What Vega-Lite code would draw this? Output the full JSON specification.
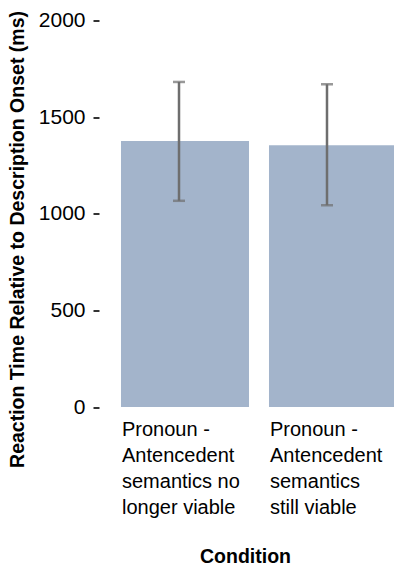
{
  "$schema": "https://vega.github.io/schema/vega-lite/v6.json",
  "autosize": {"type": "none"},
  "padding": {"left": 99, "top": 20.5, "right": 0, "bottom": 160},
  "width": 320,
  "height": 386.5,
  "config": {"view": {"stroke": null}, "font": "Liberation Sans"},
  "data": {
    "values": [
      {"condition": "Pronoun - Antencedent semantics no longer viable", "rt": 1376, "lo": 1067, "hi": 1682},
      {"condition": "Pronoun - Antencedent semantics still viable", "rt": 1355, "lo": 1044, "hi": 1670}
    ]
  },
  "encoding": {
    "x": {
      "field": "condition",
      "type": "nominal",
      "title": "Condition",
      "scale": {"paddingInner": 0.135, "paddingOuter": 0.1486},
      "axis": {
        "ticks": false,
        "domain": false,
        "labelAlign": "left",
        "labelAngle": 0,
        "labelBaseline": "top",
        "labelOffset": -63,
        "labelFontSize": 20,
        "labelLineHeight": 26,
        "labelPadding": 12,
        "labelColor": "#000",
        "labelLimit": 0,
        "labelOverlap": false,
        "labelFlush": false,
        "labelExpr": "datum.value == 'Pronoun - Antencedent semantics no longer viable' ? ['Pronoun -', 'Antencedent', 'semantics no', 'longer viable'] : ['Pronoun -', 'Antencedent', 'semantics', 'still viable']",
        "titleFontSize": 19.5,
        "titleFontWeight": "bold",
        "titleColor": "#000",
        "titlePadding": 30,
        "titleX": 146,
        "titleAlign": "center"
      }
    }
  },
  "layer": [
    {
      "mark": {"type": "bar", "color": "#a3b4cb"},
      "encoding": {
        "y": {
          "field": "rt",
          "type": "quantitative",
          "title": "Reaction Time Relative to Description Onset (ms)",
          "scale": {"domain": [0, 2000], "nice": false},
          "axis": {
            "values": [0, 500, 1000, 1500, 2000],
            "format": "d",
            "grid": false,
            "domain": false,
            "ticks": true,
            "tickSize": 6,
            "tickWidth": 2,
            "tickColor": "#333",
            "labelFontSize": 21,
            "labelPadding": 8,
            "labelColor": "#000",
            "titleFontSize": 19.5,
            "titleFontWeight": "bold",
            "titleColor": "#000",
            "titleBaseline": "alphabetic",
            "titleX": -76,
            "titleY": 218.5
          }
        }
      }
    },
    {
      "mark": {"type": "rule", "color": "#6e6e6e", "strokeWidth": 2.5, "xOffset": -6},
      "encoding": {
        "y": {"field": "lo", "type": "quantitative"},
        "y2": {"field": "hi"}
      }
    },
    {
      "mark": {"type": "tick", "color": "#6e6e6e", "thickness": 2.5, "size": 12, "xOffset": -6},
      "encoding": {"y": {"field": "lo", "type": "quantitative"}}
    },
    {
      "mark": {"type": "tick", "color": "#6e6e6e", "thickness": 2.5, "size": 12, "xOffset": -6},
      "encoding": {"y": {"field": "hi", "type": "quantitative"}}
    }
  ]
}
